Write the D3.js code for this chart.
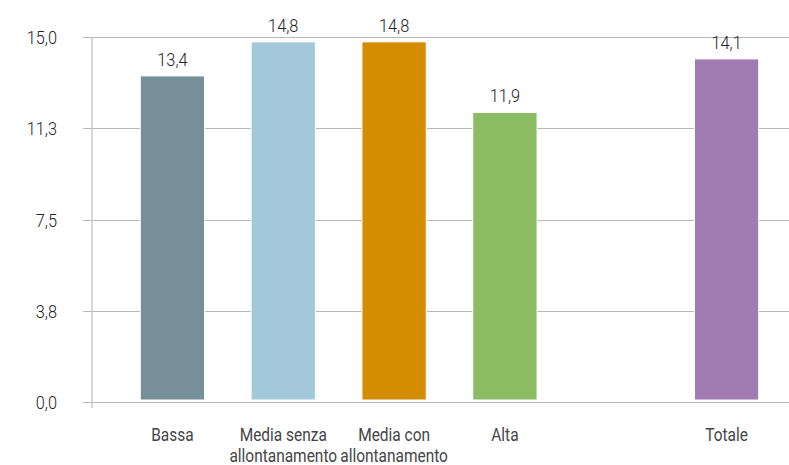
<!DOCTYPE html>
<html>
<head>
<meta charset="utf-8">
<script src="https://cdn.jsdelivr.net/npm/d3@7"></script>
<style>
  body { margin: 0; background: #fff; }
  text { font-family: Roboto, "Noto Sans", sans-serif; }
</style>
</head>
<body>
<svg width="789" height="465"></svg>
<script>
(function () {

	var categories = ["Bassa", "Media senza allontanamento", "Media con allontanamento", "Alta", "Totale"];
	var labelLines = [["Bassa"], ["Media senza", "allontanamento"], ["Media con", "allontanamento"], ["Alta"], ["Totale"]];
	var values = [13.4, 14.8, 14.8, 11.9, 14.1];
	var colors = ["#778f99", "#a3c8da", "#d48c00", "#8bbb63", "#a07cb2"];
	var yTicks = [0, 3.75, 7.5, 11.25, 15];

	// gap slot between Alta and Totale
	var slots = ["Bassa", "Media senza allontanamento", "Media con allontanamento", "Alta", "_gap", "Totale"];

	var svg = d3.select("svg");
	var fmt = function (v) { return d3.format(".1f")(v).replace(".", ","); };
	var narrow = " scale(0.86,1)"; // reference font is condensed

	var x = d3.scaleBand().domain(slots).range([117, 782]).paddingInner(0.42).paddingOuter(0.21);
	var y = d3.scaleLinear().domain([0, 15]).range([402, 37]);

	// gridlines
	svg.append("g")
		.selectAll("line")
		.data(yTicks)
		.enter().append("line")
		.attr("x1", 83)
		.attr("x2", 789)
		.attr("y1", function (d) { return Math.round(y(d)) + 0.5; })
		.attr("y2", function (d) { return Math.round(y(d)) + 0.5; })
		.attr("stroke", "#b8b8b8")
		.attr("stroke-width", 1);

	// vertical axis line
	svg.append("line")
		.attr("x1", 92).attr("x2", 92)
		.attr("y1", y(15)).attr("y2", y(0) + 6)
		.attr("stroke", "#c8c8c8")
		.attr("stroke-width", 1.5);

	// y tick labels
	svg.append("g")
		.selectAll("text")
		.data(yTicks)
		.enter().append("text")
		.attr("transform", function (d) { return "translate(57," + (y(d) + 7) + ")" + narrow; })
		.attr("text-anchor", "end")
		.attr("font-size", 19)
		.attr("font-weight", 300)
		.attr("fill", "#222")
		.text(fmt);

	// bars
	svg.append("g")
		.selectAll("rect")
		.data(values)
		.enter().append("rect")
		.attr("x", function (d, i) { return x(categories[i]); })
		.attr("width", x.bandwidth())
		.attr("y", function (d) { return y(d); })
		.attr("height", function (d) { return y(0) - y(d) - 2; })
		.attr("fill", function (d, i) { return colors[i]; })
		.attr("stroke", "#fff")
		.attr("stroke-width", 1);

	// value labels
	svg.append("g")
		.selectAll("text")
		.data(values)
		.enter().append("text")
		.attr("transform", function (d, i) {
			return "translate(" + (x(categories[i]) + x.bandwidth() / 2) + "," + (y(d) - 10) + ")" + narrow;
		})
		.attr("text-anchor", "middle")
		.attr("font-size", 19)
		.attr("font-weight", 300)
		.attr("fill", "#222")
		.text(fmt);

	// category labels
	var cat = svg.append("g")
		.selectAll("text")
		.data(labelLines)
		.enter().append("text")
		.attr("text-anchor", "middle")
		.attr("font-size", 18)
		.attr("fill", "#444")
		.attr("transform", function (d, i) {
			return "translate(" + (x(categories[i]) + x.bandwidth() / 2) + ",441)" + narrow;
		});
	cat.selectAll("tspan")
		.data(function (d) { return d; })
		.enter().append("tspan")
		.attr("x", 0)
		.attr("y", function (d, i) { return i * 21; })
		.text(function (d) { return d; });

})();
</script>
</body>
</html>
